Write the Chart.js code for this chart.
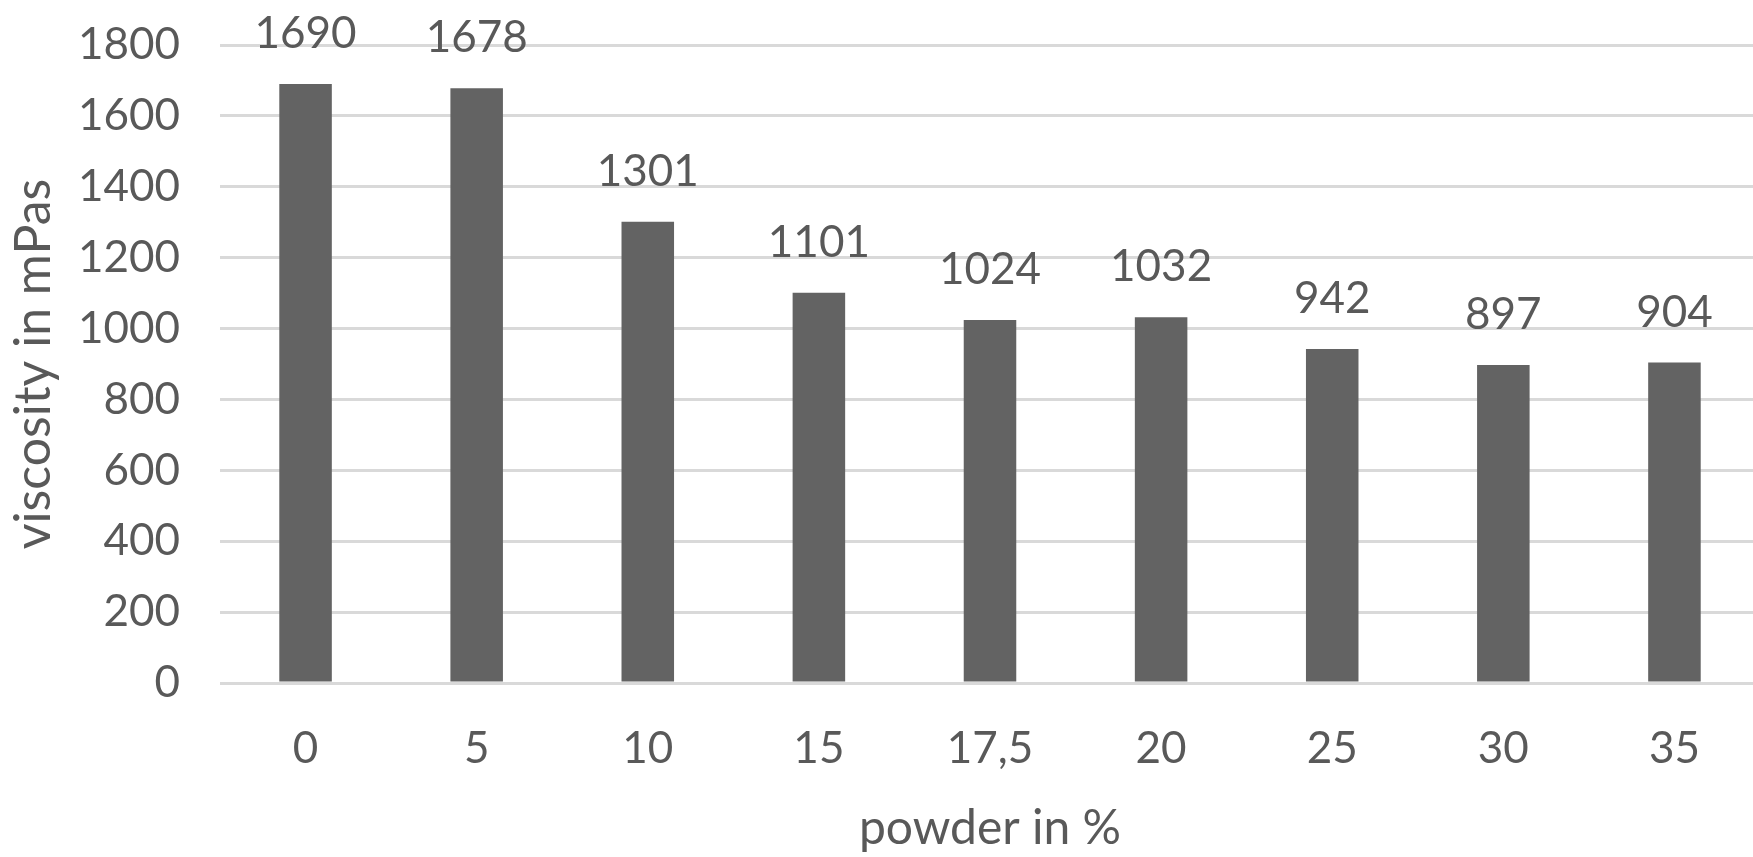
<!DOCTYPE html>
<html>
<head>
<meta charset="utf-8">
<title>viscosity chart</title>
<script src="https://cdn.jsdelivr.net/npm/chart.js@4"></script>
<style>
  html, body { margin: 0; padding: 0; background: #ffffff; overflow: hidden; }
  canvas { display: block; }
</style>
</head>
<body>
<canvas id="barChart" width="1760" height="857"></canvas>
<script>
// data
const powderLabels = ['0', '5', '10', '15', '17,5', '20', '25', '30', '35'];
const viscosityValues = [1690, 1678, 1301, 1101, 1024, 1032, 942, 897, 904];
const yMin = 0;
const yMax = 1800;
const yStep = 200;

const textColor = '#595959';
const fontName = 'Lato, "Open Sans", sans-serif';

// draw the number on top of every bar
const valueLabels = {
    id: 'valueLabels',
    afterDatasetsDraw(chart) {
        const ctx = chart.ctx;
        const meta = chart.getDatasetMeta(0);
        ctx.save();
        ctx.fillStyle = textColor;
        ctx.font = '44px ' + fontName;
        ctx.textAlign = 'center';
        ctx.textBaseline = 'alphabetic';
        meta.data.forEach((bar, i) => {
            ctx.fillText(viscosityValues[i], bar.x, bar.y - 36);
        });
        ctx.restore();
    }
};

const ctx = document.getElementById('barChart').getContext('2d');
const Bar = new Chart(ctx, {
    type: 'bar',
    data: {
        labels: powderLabels,
        datasets: [{
            data: viscosityValues,
            backgroundColor: '#636363',
            borderWidth: 0,
            categoryPercentage: 1,
            barPercentage: 0.307
        }]
    },
    options: {
        responsive: false,
        animation: false,
        layout: { padding: { top: 45, right: 0, bottom: 0, left: 0 } },
        plugins: {
            legend: { display: false },
            tooltip: { enabled: false }
        },
        scales: {
            x: {
                grid: { display: false, drawTicks: false },
                border: { display: false },
                ticks: { color: textColor, font: { family: fontName, size: 44 }, padding: 39 },
                title: {
                    display: true,
                    text: 'powder in %',
                    color: textColor,
                    font: { family: fontName, size: 48 },
                    padding: { top: 0, bottom: 0 }
                },
                afterFit(scale) { scale.height = 174; }
            },
            y: {
                min: yMin,
                max: yMax,
                // invisible tick marks keep the labels away from the plot
                grid: { color: '#d9d9d9', lineWidth: 3, drawTicks: true, tickLength: 40, tickColor: 'rgba(0,0,0,0)' },
                border: { display: false },
                ticks: {
                    stepSize: yStep,
                    color: textColor,
                    font: { family: fontName, size: 44 },
                    padding: 0,
                    callback: (value) => String(value) // no thousands comma
                },
                title: {
                    display: true,
                    text: 'viscosity in mPas',
                    color: textColor,
                    font: { family: fontName, size: 50 },
                    padding: { top: 4, bottom: 0 }
                },
                afterFit(scale) { scale.width = 220; }
            }
        }
    },
    plugins: [valueLabels]
});
</script>
</body>
</html>
